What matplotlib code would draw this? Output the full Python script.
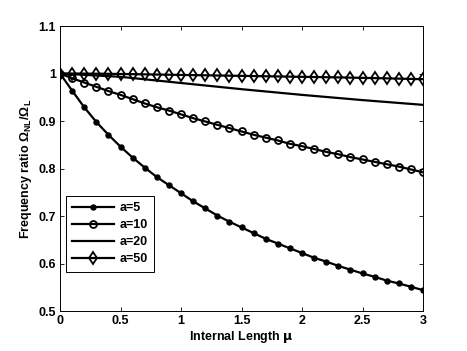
import numpy as np
import matplotlib
matplotlib.use("Agg")
import matplotlib.pyplot as plt
from matplotlib.ticker import FuncFormatter

plt.rcParams['font.family'] = ['Liberation Sans', 'DejaVu Sans']
plt.rcParams['font.weight'] = 'bold'
plt.rcParams['mathtext.fontset'] = 'custom'
plt.rcParams['mathtext.rm'] = 'Liberation Sans'
plt.rcParams['mathtext.bf'] = 'Liberation Sans:bold'
plt.rcParams['mathtext.it'] = 'DejaVu Sans'

# internal length values
mu = np.round(np.arange(0, 3.01, 0.1), 1)

# a = 5 (filled dots)
ratio_a5 = [1.000, 0.964, 0.929, 0.898, 0.871, 0.846, 0.823, 0.802, 0.782, 0.765,
            0.748, 0.731, 0.716, 0.701, 0.688, 0.676, 0.664, 0.652, 0.642, 0.632,
            0.622, 0.612, 0.604, 0.595, 0.587, 0.579, 0.572, 0.564, 0.558, 0.551,
            0.544]
# a = 10 (open circles)
ratio_a10 = [1.000, 0.990, 0.981, 0.972, 0.963, 0.955, 0.946, 0.937, 0.929, 0.922,
             0.914, 0.906, 0.899, 0.892, 0.885, 0.878, 0.871, 0.865, 0.859, 0.852,
             0.847, 0.841, 0.835, 0.830, 0.824, 0.819, 0.814, 0.809, 0.804, 0.798,
             0.792]
# a = 20 (plain line)
mu_a20 = [0, 0.5, 1.0, 1.5, 2.0, 2.5, 3.0]
ratio_a20 = [1.000, 0.993, 0.980, 0.967, 0.955, 0.944, 0.934]
# a = 50 (diamonds)
ratio_a50 = [1.000, 1.000, 0.9998, 0.9996, 0.9993, 0.999, 0.9986, 0.9982, 0.9978, 0.9974,
             0.997, 0.9966, 0.9962, 0.9958, 0.9954, 0.995, 0.9946, 0.9942, 0.9938, 0.9934,
             0.993, 0.9926, 0.9922, 0.9918, 0.9913, 0.9908, 0.9903, 0.9898, 0.9892, 0.9886,
             0.988]

fig = plt.figure(figsize=(4.67, 3.51), dpi=100)
ax = fig.add_axes([60/467, 1-311/351, (423-60)/467, (311-26)/351])

lw = 1.6
ax.plot(mu, ratio_a5, '-o', color='k', lw=lw, ms=3.6, mfc='k', label='a=5')
ax.plot(mu, ratio_a10, '-o', color='k', lw=lw, ms=5, mfc='none', mew=1.3, label='a=10')
ax.plot(mu_a20, ratio_a20, '-', color='k', lw=lw, label='a=20')
ax.plot(mu, ratio_a50, '-d', color='k', lw=lw, ms=6.3, mfc='none', mew=1.3, label='a=50')

ax.set_xlim(0, 3)
ax.set_ylim(0.5, 1.1)
ax.set_xticks(np.arange(0, 3.01, 0.5))
ax.set_yticks(np.arange(0.5, 1.101, 0.1))
fmt = FuncFormatter(lambda v, p: '%g' % round(v, 2))
ax.xaxis.set_major_formatter(fmt)
ax.yaxis.set_major_formatter(fmt)
ax.tick_params(direction='in', top=True, right=True, labelsize=9, length=3, width=0.6, pad=3)
for s in ax.spines.values():
    s.set_linewidth(0.7)

ax.set_xlabel(r'Internal Length $\mu$', fontsize=9, fontweight='bold', labelpad=1)
ax.set_ylabel(r'Frequency ratio $\Omega_{\mathbf{NL}}/\Omega_{\mathbf{L}}$', fontsize=9,
              fontweight='bold', labelpad=3)

leg = ax.legend(loc='lower left', bbox_to_anchor=(0.005, 0.125), fontsize=9,
                handlelength=3.4, fancybox=False, edgecolor='k', framealpha=1,
                borderaxespad=0.3, labelspacing=0.4, handletextpad=0.4,
                borderpad=0.5)
leg.get_frame().set_linewidth(0.7)

fig.savefig('out.png', dpi=100)
